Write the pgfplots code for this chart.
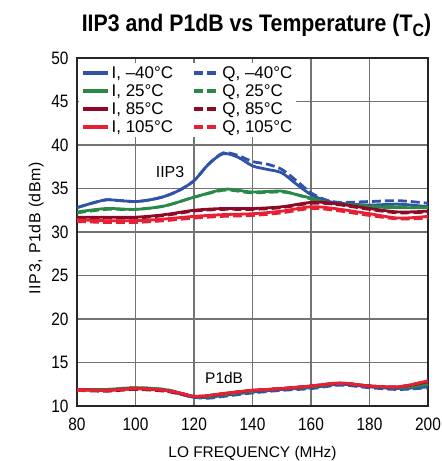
\documentclass[border=0pt]{standalone}
\usepackage{fontspec}
\setmainfont{Liberation Sans}
\newfontfamily\tickfont{Liberation Sans}[FakeStretch=0.86]
\newfontfamily\titlefont{Liberation Sans}[FakeStretch=0.89]
\usepackage{pgfplots}
\pgfplotsset{compat=1.18}

\definecolor{cBlue}{RGB}{48,82,168}
\definecolor{cGreen}{RGB}{40,138,70}
\definecolor{cDark}{RGB}{140,10,40}
\definecolor{cRed}{RGB}{232,32,52}
\definecolor{gridc}{RGB}{115,115,115}

\begin{document}
\begin{tikzpicture}
\useasboundingbox (-77bp,-55bp) rectangle (365bp,406bp);
\begin{axis}[
	name=ax,
	scale only axis,
	width=351bp, height=348bp,
	at={(0,0)}, anchor=south west,
	xmin=80, xmax=200, ymin=10, ymax=50,
	xtick={80,100,...,200},
	ytick={10,15,...,50},
	grid=major,
	major grid style={gridc, line width=1.1bp},
	major tick length=0pt,
	axis line style={black!85, line width=1.4bp},
	tick label style={font=\tickfont\fontsize{18}{20}\selectfont},
	/pgf/number format/assume math mode=true,
	xticklabel style={yshift=-8bp},
	yticklabel style={xshift=-5bp},
	xlabel={LO FREQUENCY (MHz)},
	ylabel={IIP3, P1dB (dBm)},
	xlabel style={font=\fontsize{15.5}{16}\selectfont, at={(axis description cs:0.5,-0.136)}, anchor=center},
	ylabel style={font=\addfontfeature{LetterSpace=4}\fontsize{16}{16}\selectfont, at={(axis description cs:-0.116,0.511)}, anchor=center},
	every axis plot/.append style={line width=2.8bp, smooth, tension=0.5},
	legend columns=2,
	legend cell align=left,
	legend style={at={(rel axis cs:0.006,0.985)}, anchor=north west, draw=none, fill=white,
		font=\fontsize{17}{19}\selectfont, inner xsep=2bp, inner ysep=1bp,
		/tikz/every even column/.append style={column sep=17bp},
		row sep=0.7bp},
	legend image code/.code={\draw[#1, line width=3.4bp] (0bp,0bp) -- (25bp,0bp);},
]
% I, -40C
\addplot[cBlue] coordinates {(80,32.8)(85,33.3)(90,33.7)(95,33.6)(100,33.5)(105,33.7)(110,34.1)(115,34.8)(120,35.9)(125,37.8)(130,39.0)(135,38.6)(140,37.6)(145,37.2)(150,36.8)(155,35.5)(160,34.3)(165,33.6)(170,33.3)(180,33.1)(190,33.2)(200,32.9)};
\addlegendentry{I, –40°C}
\addplot[cBlue, dash pattern=on 9bp off 4bp] coordinates {(80,32.8)(85,33.3)(90,33.7)(95,33.6)(100,33.5)(105,33.7)(110,34.1)(115,34.8)(120,35.9)(125,37.8)(130,39.1)(135,38.8)(140,38.1)(145,37.8)(150,37.2)(155,35.9)(160,34.5)(165,33.7)(170,33.4)(180,33.5)(190,33.6)(200,33.3)};
\addlegendentry{Q, –40°C}
% 25C
\addplot[cGreen] coordinates {(80,32.3)(90,32.7)(100,32.6)(110,33.0)(120,34.0)(130,34.9)(135,34.8)(140,34.6)(150,34.7)(155,34.3)(160,33.9)(167,33.3)(180,32.9)(190,32.8)(200,32.8)};
\addlegendentry{I, 25°C}
\addplot[cGreen, dash pattern=on 9bp off 4bp] coordinates {(80,32.2)(90,32.6)(100,32.6)(110,33.0)(120,34.0)(130,34.8)(135,34.7)(140,34.5)(150,34.6)(155,34.3)(160,33.8)(167,33.3)(180,33.0)(190,32.9)(200,32.8)};
\addlegendentry{Q, 25°C}
% 85C
\addplot[cDark] coordinates {(80,31.7)(90,31.7)(100,31.7)(110,32.0)(120,32.5)(130,32.7)(140,32.7)(150,32.9)(160,33.4)(168,33.3)(180,32.7)(190,32.3)(200,32.4)};
\addlegendentry{I, 85°C}
\addplot[cDark, dash pattern=on 9bp off 4bp] coordinates {(80,31.6)(90,31.6)(100,31.6)(110,31.9)(120,32.4)(130,32.6)(140,32.6)(150,32.8)(160,33.3)(168,33.2)(180,32.6)(190,32.2)(200,32.3)};
\addlegendentry{Q, 85°C}
% 105C
\addplot[cRed] coordinates {(80,31.4)(90,31.3)(100,31.3)(110,31.5)(120,31.8)(130,32.0)(140,32.1)(150,32.4)(160,32.9)(168,32.7)(180,32.1)(190,31.6)(200,31.8)};
\addlegendentry{I, 105°C}
\addplot[cRed, dash pattern=on 9bp off 4bp] coordinates {(80,31.2)(90,31.1)(100,31.1)(110,31.3)(120,31.6)(130,31.8)(140,31.9)(150,32.2)(160,32.7)(168,32.5)(180,31.9)(190,31.5)(200,31.6)};
\addlegendentry{Q, 105°C}
% P1dB
\addplot[cBlue, forget plot] coordinates {(80,11.9)(90,11.8)(100,12.0)(110,11.8)(115,11.4)(120,11.0)(125,11.0)(130,11.2)(140,11.6)(150,11.9)(160,12.1)(170,12.5)(180,12.2)(190,12.0)(200,12.2)};
\addplot[cBlue, forget plot, dash pattern=on 9bp off 4bp] coordinates {(80,11.9)(90,11.8)(100,12.0)(110,11.8)(115,11.4)(120,11.0)(125,10.9)(130,11.1)(140,11.5)(150,11.8)(160,12.0)(170,12.4)(180,12.1)(190,11.9)(200,12.1)};
\addplot[cGreen, forget plot] coordinates {(80,11.9)(90,11.9)(100,12.1)(110,11.9)(115,11.5)(120,11.1)(125,11.1)(130,11.3)(140,11.7)(150,12.0)(160,12.2)(170,12.6)(180,12.3)(190,12.1)(200,12.5)};
\addplot[cGreen, forget plot, dash pattern=on 9bp off 4bp] coordinates {(80,11.9)(90,11.9)(100,12.1)(110,11.9)(115,11.5)(120,11.1)(125,11.1)(130,11.3)(140,11.7)(150,12.0)(160,12.2)(170,12.6)(180,12.3)(190,12.1)(200,12.5)};
\addplot[cDark, forget plot] coordinates {(80,11.9)(90,11.8)(100,12.0)(110,11.8)(115,11.5)(120,11.1)(125,11.2)(130,11.4)(140,11.8)(150,12.0)(160,12.3)(170,12.6)(180,12.3)(190,12.2)(200,12.8)};
\addplot[cDark, forget plot, dash pattern=on 9bp off 4bp] coordinates {(80,11.8)(90,11.7)(100,11.9)(110,11.7)(115,11.4)(120,11.1)(125,11.2)(130,11.4)(140,11.8)(150,12.0)(160,12.3)(170,12.6)(180,12.3)(190,12.2)(200,12.8)};
\addplot[cRed, forget plot] coordinates {(80,11.9)(90,11.8)(100,12.0)(110,11.8)(115,11.5)(120,11.1)(125,11.2)(130,11.45)(140,11.8)(150,12.0)(160,12.3)(170,12.65)(180,12.3)(190,12.2)(200,12.9)};
\addplot[cRed, forget plot, dash pattern=on 9bp off 4bp] coordinates {(80,11.8)(90,11.8)(100,12.0)(110,11.8)(115,11.5)(120,11.1)(125,11.2)(130,11.4)(140,11.8)(150,12.0)(160,12.3)(170,12.6)(180,12.3)(190,12.2)(200,12.9)};

\node[font=\fontsize{16}{18}\selectfont] at (axis cs:111.8,36.9) {IIP3};
\node[font=\fontsize{15.5}{18}\selectfont] at (axis cs:130.3,13.2) {P1dB};
\end{axis}
\node[font=\titlefont\bfseries\fontsize{24}{26}\selectfont, anchor=base, inner sep=0pt] at ([xshift=179.5bp, yshift=26.3bp]ax.north west)
	{IIP3 and P1dB vs Temperature (T\raisebox{-0.22em}{\fontsize{18}{18}\selectfont C})};
\end{tikzpicture}
\end{document}
